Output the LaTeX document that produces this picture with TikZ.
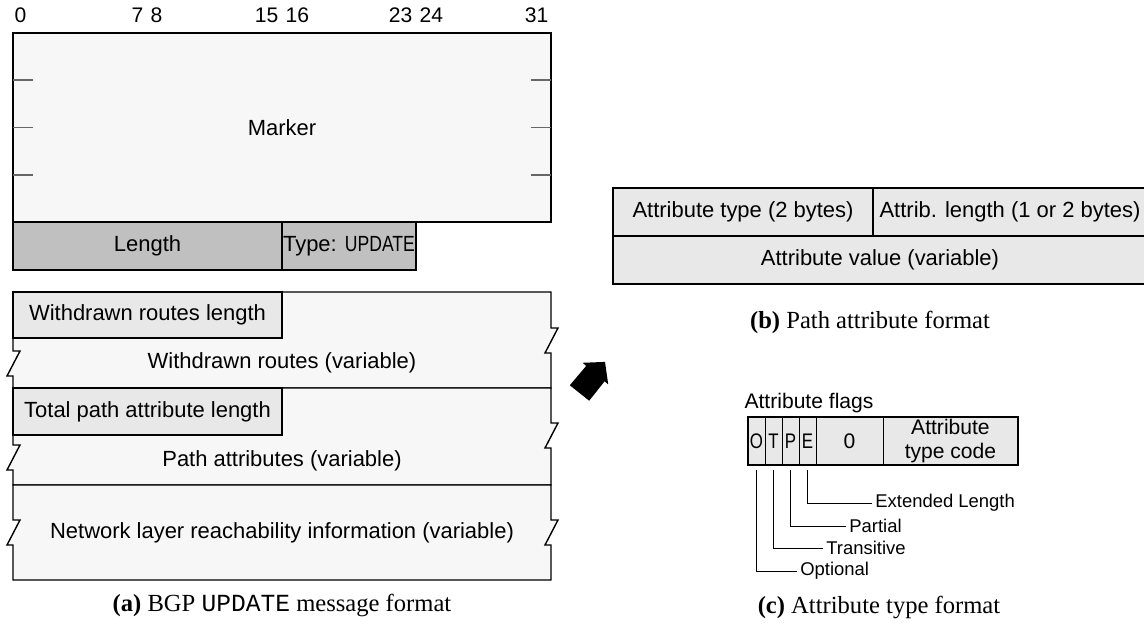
\documentclass[tikz,border=0pt]{standalone}
\usepackage{fontspec}
\setmainfont{Liberation Serif}
\setsansfont{Liberation Sans}
\setmonofont{Liberation Mono}
\newfontfamily\narrowsf[FakeStretch=0.8]{Liberation Sans}
\usetikzlibrary{positioning, calc}
\definecolor{pktlight}{HTML}{F7F7F7}
\definecolor{fieldgray}{HTML}{E8E8E8}
\definecolor{hdrgray}{HTML}{C0C0C0}
\definecolor{tickgray}{HTML}{666666}

\tikzset{
  field/.style={font=\sffamily\fontsize{12.5}{15}\selectfont, inner sep=0pt},
  bitnum/.style={font=\sffamily\fontsize{12}{14}\selectfont, inner sep=0pt},
  flaglbl/.style={font=\sffamily\fontsize{10.5}{12}\selectfont, anchor=west, inner sep=1.5pt},
  flagcell/.style={draw, fill=fieldgray, line width=0.5pt, minimum height=0.96cm, inner sep=0pt,
    outer sep=0pt, font=\narrowsf\fontsize{12}{14}\selectfont},
  figcap/.style={font=\fontsize{14}{16}\selectfont},
}

\begin{document}
\begin{tikzpicture}[x=0.02cm, y=-0.02cm, line width=0.8pt, line join=miter]
\useasboundingbox (0,0) rectangle (1144,632);

% Bit numbers
\node[bitnum, anchor=west] (bit0) at (14,15) {0};
\foreach \lo/\hi/\xb in {7/8/147, 15/16/282, 23/24/416} {
  \node[bitnum, anchor=east] (bit\lo) at (\xb-3,15) {\lo};
  \node[bitnum, anchor=west] (bit\hi) at (\xb+3,15) {\hi};
}
\node[bitnum, anchor=east] (bit31) at (549,15) {31};

% Marker
\draw[fill=pktlight] (13,33) rectangle (551,222);
\foreach \y in {80,127.5,175} {
  \draw[tickgray, line width=0.6pt] (13,\y) -- (33,\y);
  \draw[tickgray, line width=0.6pt] (531,\y) -- (551,\y);
}
\node[field] (marker) at (282,127.5) {Marker};

% Length and type
\draw[fill=hdrgray] (13,222) rectangle (282,270);
\draw[fill=hdrgray] (282,222) rectangle (416,270);
\node[field] (length) at (147.5,246) {Length};
\node[field] (type) at (349,246) {Type: {\narrowsf UPDATE}};

% Withdrawn routes
\draw[fill=pktlight] (13,292) -- (551,292) -- (551,328) -- ++(7,0) -- ++(-13,25) -- ++(6,0)
  -- (551,388) -- (13,388) -- (13,376) -- ++(-6,0) -- ++(13,-25) -- ++(-7,0) -- cycle;
\draw[fill=fieldgray] (13,292) rectangle (282,338);
\node[field] (wdlen) at (147.5,315) {Withdrawn routes length};
\node[field] (wdroutes) at (282,363) {Withdrawn routes (variable)};

% Path attributes
\draw[fill=pktlight] (13,388) -- (551,388) -- (551,423) -- ++(7,0) -- ++(-13,25) -- ++(6,0)
  -- (551,485) -- (13,485) -- (13,470) -- ++(-6,0) -- ++(13,-25) -- ++(-7,0) -- cycle;
\draw[fill=fieldgray] (13,388) rectangle (282,435);
\node[field] (palen) at (147.5,412) {Total path attribute length};
\node[field] (pattrs) at (282,461) {Path attributes (variable)};

% NLRI
\draw[fill=pktlight] (13,485) -- (551,485) -- (551,520) -- ++(7,0) -- ++(-13,25) -- ++(6,0)
  -- (551,580) -- (13,580) -- (13,545) -- ++(-6,0) -- ++(13,-25) -- ++(-7,0) -- cycle;
\node[field] (nlri) at (282,533) {Network layer reachability information (variable)};

\node[figcap] (capa) at (282,605) {\textbf{(a)} BGP \texttt{UPDATE} message format};

% Pointer arrow
\fill (569.8,385.3) -- (586.2,365.9) -- (582.6,362.8) -- (605.0,361.9)
  -- (608.2,384.4) -- (604.6,381.3) -- (589.2,400.7) -- cycle;

% Path attribute format
\draw[fill=fieldgray] (613,188) rectangle (1147,284);
\draw (613,236) -- (1147,236);
\draw (873,188) -- (873,236);
\node[field] (attrtype) at (743,212) {Attribute type (2 bytes)};
\node[field] (attrlen) at (1010,212) {Attrib. length (1 or 2 bytes)};
\node[field] (attrval) at (880,260) {Attribute value (variable)};
\node[figcap] (capb) at (870,322) {\textbf{(b)} Path attribute format};

% Attribute type format
\node[field, font=\sffamily\fontsize{12}{14}\selectfont] (flagsttl) at (809,403) {Attribute flags};
\node[flagcell, minimum width=0.34cm] (fo) at (756.5,441) {O};
\node[flagcell, minimum width=0.34cm, right=0pt of fo] (ft) {T};
\node[flagcell, minimum width=0.34cm, right=0pt of ft] (fp) {P};
\node[flagcell, minimum width=0.34cm, right=0pt of fp] (fe) {E};
\node[flagcell, minimum width=1.34cm, right=0pt of fe, font=\sffamily\fontsize{12}{14}\selectfont] (fz) {0};
\node[flagcell, minimum width=2.70cm, right=0pt of fz, align=center,
  font=\sffamily\fontsize{12}{13.5}\selectfont] (fcode) {Attribute\\type code};
\draw (748,417) rectangle (1018,465);

\node[flaglbl] (extlbl) at (872,503) {Extended Length};
\node[flaglbl] (partlbl) at (846,526) {Partial};
\node[flaglbl] (translbl) at (823,548) {Transitive};
\node[flaglbl] (optlbl) at (797,571) {Optional};
\foreach \cell/\lbl in {fe/extlbl, fp/partlbl, ft/translbl, fo/optlbl} {
  \draw[line width=0.5pt] ([yshift=-3pt]\cell.south) |- (\lbl.west);
}

\node[figcap] (capc) at (879,607) {\textbf{(c)} Attribute type format};

\end{tikzpicture}
\end{document}
